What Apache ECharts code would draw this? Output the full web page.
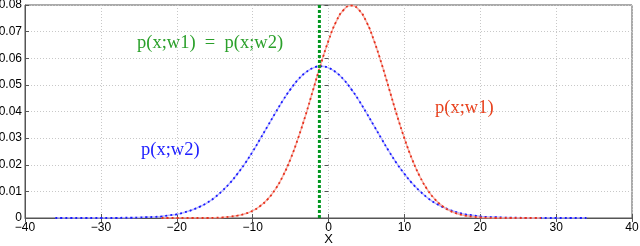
<!DOCTYPE html>
<html><head><meta charset="utf-8">
<script src="https://cdn.jsdelivr.net/npm/echarts@6/dist/echarts.min.js"></script>
<style>html,body{margin:0;padding:0;background:#fff}#c{width:640px;height:246px}</style>
</head><body><div id="c"></div>
<script>
// red curve p(x;w1): x from -22 to 28, step 1
const redX0 = -22;
const redY = [0,0,0,0,0,0,0,0.0001,0.0002,0.0005,0.0009,0.0016,0.0027,0.0045,0.0071,0.0108,0.0158,0.0222,0.0300,0.0388,0.0484,0.0579,0.0666,0.0737,0.0782,0.0798,0.0782,0.0737,0.0666,0.0579,0.0484,0.0388,0.0300,0.0222,0.0158,0.0108,0.0071,0.0045,0.0027,0.0016,0.0009,0.0005,0.0002,0.0001,0,0,0,0,0,0,0];
// blue curve p(x;w2): x from -36 to 34, step 1
const blueX0 = -36;
const blueY = [0,0,0,0,0,0,0,0,0,0.0001,0.0001,0.0002,0.0003,0.0004,0.0006,0.0010,0.0014,0.0021,0.0030,0.0042,0.0057,0.0077,0.0102,0.0131,0.0166,0.0205,0.0249,0.0297,0.0346,0.0395,0.0442,0.0484,0.0520,0.0547,0.0564,0.0570,0.0564,0.0547,0.0520,0.0484,0.0442,0.0395,0.0346,0.0297,0.0249,0.0205,0.0166,0.0131,0.0102,0.0077,0.0057,0.0042,0.0030,0.0021,0.0014,0.0010,0.0006,0.0004,0.0003,0.0002,0.0001,0.0001,0,0,0,0,0,0,0,0,0];
const xTicks = [-40,-30,-20,-10,0,10,20,30,40];
const yTicks = [0,0.01,0.02,0.03,0.04,0.05,0.06,0.07,0.08];
const equalX = -1.2;
const labels = {eq:'p(x;w1)  =  p(x;w2)', w1:'p(x;w1)', w2:'p(x;w2)', xName:'X'};

const redData = redY.map((v,i)=>[redX0+i,v]);
const blueData = blueY.map((v,i)=>[blueX0+i,v]);
const RED='#e8301c', BLUE='#1a1aff', GREEN='#00961e';
const chart = echarts.init(document.getElementById('c'),null,{renderer:'canvas'});
const axisLabel = {color:'#000',fontFamily:'Liberation Sans, Arial, sans-serif',fontSize:12};
const tick = {show:true,inside:true,length:4,lineStyle:{color:'#555'}};
const split = {show:true,lineStyle:{color:'#c8c8c8',type:[1,2]}};
chart.setOption({
  animation:false,
  grid:{left:25,right:8,top:5,bottom:28,containLabel:false,outerBoundsMode:'none',show:true,borderColor:'#555',borderWidth:1},
  xAxis:[{type:'value',min:-40,max:40,interval:10,
    name:labels.xName,nameLocation:'middle',nameGap:15,nameMoveOverlap:false,
    nameTextStyle:{color:'#000',fontFamily:'Liberation Sans, Arial, sans-serif',fontSize:13,verticalAlign:'top'},
    axisLine:{show:true,onZero:false,lineStyle:{color:'#555'}},
    axisTick:tick,
    axisLabel:Object.assign({},axisLabel,{margin:4,formatter:v=>(v<0?'\u2212'+(-v):''+v)}),
    splitLine:split},
    {type:'value',position:'top',min:-40,max:40,interval:10,axisLine:{show:false},axisTick:tick,axisLabel:{show:false},splitLine:{show:false}}],
  yAxis:[{type:'value',min:0,max:0.08,interval:0.01,
    axisLine:{show:true,onZero:false,lineStyle:{color:'#555'}},
    axisTick:tick,
    axisLabel:Object.assign({},axisLabel,{margin:3,formatter:v=>(v===0?'0':v.toFixed(2))}),
    splitLine:split},
    {type:'value',position:'right',min:0,max:0.08,interval:0.01,axisLine:{show:false},axisTick:tick,axisLabel:{show:false},splitLine:{show:false}}],
  series:[
    {type:'line',data:blueData,showSymbol:false,smooth:true,lineStyle:{color:'#b8b8ff',width:1.5}},
    {type:'line',data:blueData,showSymbol:false,smooth:true,lineStyle:{color:BLUE,width:1.8,type:[2,3]}},
    {type:'line',data:redData,showSymbol:false,smooth:true,lineStyle:{color:'#f4b0a6',width:1.5}},
    {type:'line',data:redData,showSymbol:false,smooth:true,lineStyle:{color:RED,width:1.8,type:[2,3]}},
    {type:'line',data:[[equalX,0],[equalX,0.08]],showSymbol:false,lineStyle:{color:GREEN,width:3,type:[3,2]}}
  ],
  graphic:[
    {type:'text',left:137,top:34,style:{text:labels.eq,fill:'#2aa02a',font:'18.5px "Liberation Serif", "DejaVu Serif", serif'}},
    {type:'text',left:435,top:99,style:{text:labels.w1,fill:'#e8401c',font:'18.5px "Liberation Serif", "DejaVu Serif", serif'}},
    {type:'text',left:141,top:141,style:{text:labels.w2,fill:'#2020ff',font:'18.5px "Liberation Serif", "DejaVu Serif", serif'}}
  ]
});
</script></body></html>
